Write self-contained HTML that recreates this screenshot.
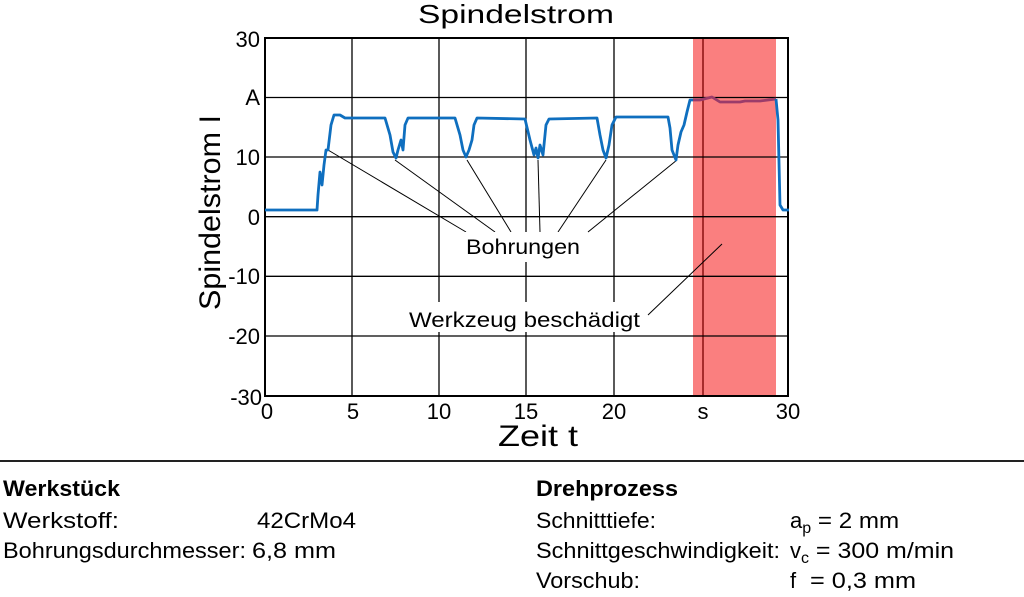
<!DOCTYPE html>
<html><head><meta charset="utf-8"><style>
html,body{margin:0;padding:0;background:#fff;}
svg{display:block;font-family:"Liberation Sans",Arial,sans-serif;}
</style></head><body>
<svg width="1024" height="597" viewBox="0 0 1024 597" xmlns="http://www.w3.org/2000/svg">
<rect x="0" y="0" width="1024" height="597" fill="#fff"/>
<text x="418" y="23" font-size="26" textLength="196" lengthAdjust="spacingAndGlyphs">Spindelstrom</text>
<rect x="693" y="38" width="83" height="358" fill="#fa7f7f"/>
<g stroke="#000" stroke-width="1.3">
<line x1="352" y1="38" x2="352" y2="396"/>
<line x1="439" y1="38" x2="439" y2="396"/>
<line x1="526" y1="38" x2="526" y2="396"/>
<line x1="614" y1="38" x2="614" y2="396"/>
<line x1="703" y1="38" x2="703" y2="396" stroke="#7a0000"/>
<line x1="265" y1="97.5" x2="788" y2="97.5"/>
<line x1="265" y1="157" x2="788" y2="157"/>
<line x1="265" y1="216.7" x2="788" y2="216.7"/>
<line x1="265" y1="276.3" x2="788" y2="276.3"/>
<line x1="265" y1="336" x2="788" y2="336"/>
</g>
<rect x="265" y="38" width="523" height="358" fill="none" stroke="#000" stroke-width="2"/>
<g stroke="#000" stroke-width="1">
<line x1="328" y1="150" x2="466" y2="232"/>
<line x1="395" y1="160" x2="495" y2="232"/>
<line x1="467" y1="160" x2="511" y2="232"/>
<line x1="538" y1="160" x2="540" y2="232"/>
<line x1="606" y1="160" x2="558" y2="232"/>
<line x1="677" y1="160" x2="588" y2="232"/>
<line x1="648" y1="315" x2="722" y2="244"/>
</g>
<rect x="460" y="232" width="126" height="30" fill="#fff"/>
<rect x="405" y="302" width="238" height="30" fill="#fff"/>
<text x="466" y="254" font-size="21" textLength="114" lengthAdjust="spacingAndGlyphs">Bohrungen</text>
<text x="409" y="327" font-size="21" textLength="231" lengthAdjust="spacingAndGlyphs">Werkzeug beschädigt</text>
<path d="M265,210 L317,210 L318,195 L320,172 L322,185 L324,165 L326,150 L328,150 L331,125 L334,115 L340,115 L345,118 L385,118 L390,135 L393,152 L396,158 L398,150 L401,140 L403,150 L405,125 L408,118 L455,118 L460,135 L463,150 L466,157 L469,150 L472,140 L474,125 L477,118 L525,119 L530,140 L534,155 L536,148 L538,158 L540,145 L543,155 L546,125 L549,119 L597,118 L600,135 L603,150 L606,158 L609,145 L612,125 L616,117 L668,117 L670,128 L672,150 L674,155 L676,160 L678,145 L681,132 L684,125 L687,112 L690,100 L693,100" fill="none" stroke="#0f6fbf" stroke-width="2.8" stroke-linejoin="round"/>
<path d="M693,100 L700,100 L712,97 L720,102 L740,102 L745,101 L760,101 L776,99" fill="none" stroke="#9b3c6a" stroke-width="2.8" stroke-linejoin="round"/>
<path d="M776,99 L778,120 L780,205 L783,210 L789,210" fill="none" stroke="#0f6fbf" stroke-width="2.8" stroke-linejoin="round"/>
<g font-size="22" text-anchor="end">
<text x="260" y="47">30</text>
<text x="260" y="105">A</text>
<text x="260" y="165">10</text>
<text x="260" y="225">0</text>
<text x="260" y="284">-10</text>
<text x="260" y="344">-20</text>
<text x="262" y="405">-30</text>
</g>
<g font-size="22" text-anchor="middle">
<text x="267" y="419">0</text>
<text x="353" y="419">5</text>
<text x="439" y="419">10</text>
<text x="526" y="419">15</text>
<text x="614" y="419">20</text>
<text x="703" y="419">s</text>
<text x="788" y="419">30</text>
</g>
<text x="498" y="446" font-size="30" textLength="80" lengthAdjust="spacingAndGlyphs">Zeit t</text>
<text transform="translate(220,310) rotate(-90)" font-size="30" textLength="195" lengthAdjust="spacingAndGlyphs">Spindelstrom I</text>
<line x1="0" y1="461" x2="1024" y2="461" stroke="#222" stroke-width="2"/>
<g font-size="22">
<text x="3" y="496" font-weight="bold" textLength="117" lengthAdjust="spacingAndGlyphs">Werkstück</text>
<text x="3" y="528" textLength="116" lengthAdjust="spacingAndGlyphs">Werkstoff:</text>
<text x="257" y="528" textLength="99" lengthAdjust="spacingAndGlyphs">42CrMo4</text>
<text x="3" y="558" textLength="243" lengthAdjust="spacingAndGlyphs">Bohrungsdurchmesser:</text>
<text x="252" y="558" textLength="84" lengthAdjust="spacingAndGlyphs">6,8 mm</text>
<text x="536" y="496" font-weight="bold" textLength="142" lengthAdjust="spacingAndGlyphs">Drehprozess</text>
<text x="536" y="528" textLength="120" lengthAdjust="spacingAndGlyphs">Schnitttiefe:</text>
<text x="790" y="528">a<tspan font-size="16" dy="5">p</tspan><tspan dy="-5" textLength="88" lengthAdjust="spacingAndGlyphs"> = 2 mm</tspan></text>
<text x="536" y="558" textLength="244" lengthAdjust="spacingAndGlyphs">Schnittgeschwindigkeit:</text>
<text x="790" y="558">v<tspan font-size="16" dy="5">c</tspan><tspan dy="-5" textLength="145" lengthAdjust="spacingAndGlyphs"> = 300 m/min</tspan></text>
<text x="536" y="588" textLength="104" lengthAdjust="spacingAndGlyphs">Vorschub:</text>
<text x="790" y="588" xml:space="preserve">f</text>
<text x="810" y="588" textLength="106" lengthAdjust="spacingAndGlyphs">= 0,3 mm</text>
</g>
</svg>
</body></html>
